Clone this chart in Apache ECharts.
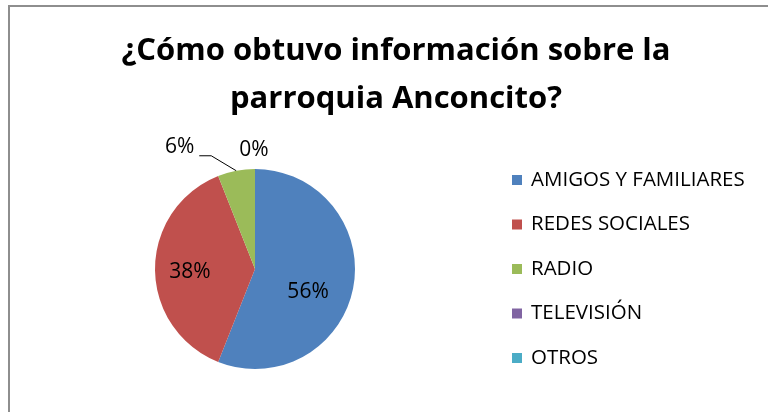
<!DOCTYPE html>
<html>
<head>
<meta charset="utf-8">
<script src="https://cdn.jsdelivr.net/npm/echarts@6/dist/echarts.min.js"></script>
<style>
  html, body { margin: 0; padding: 0; background: #fff; }
  #main { width: 768px; height: 412px; }
</style>
</head>
<body>
<div id="main"></div>
<script>
// respuestas de la encuesta (porcentajes)
const categories = ['AMIGOS Y FAMILIARES', 'REDES SOCIALES', 'RADIO', 'TELEVISIÓN', 'OTROS'];
const values = [56, 38, 6, 0, 0];
const colors = ['#4F81BD', '#C0504D', '#9BBB59', '#8064A2', '#4BACC6'];

const font = '"Open Sans", "Noto Sans", sans-serif';

let data = categories.map(function (name, i) {
    let item = { name: name, value: values[i], itemStyle: { color: colors[i] } };
    if (i < 2) {
        item.label = { position: 'inside' };
    } else if (i === 3) {
        item.labelLine = { show: false };
    } else if (i === 4) {
        item.label = { show: false };
        item.labelLine = { show: false };
    }
    return item;
});

let option = {
    backgroundColor: '#fff',
    animation: false,
    title: {
        text: '¿Cómo obtuvo información sobre la\nparroquia Anconcito?',
        left: 391,
        top: 22,
        textAlign: 'center',
        textStyle: {
            fontFamily: font,
            fontWeight: 'bold',
            fontSize: 31,
            lineHeight: 48,
            color: '#000'
        }
    },
    legend: {
        orient: 'vertical',
        left: 507,
        top: 163,
        itemWidth: 10,
        itemHeight: 10,
        itemGap: 20.5,
        icon: 'rect',
        textStyle: {
            fontFamily: font,
            fontSize: 20.5,
            lineHeight: 24,
            color: '#000',
            padding: [0, 0, 0, 4]
        }
    },
    graphic: [{
        type: 'rect',
        silent: true,
        shape: { x: 9, y: 6, width: 800, height: 500 },
        style: { fill: 'none', stroke: '#8e8e8e', lineWidth: 2 }
    }],
    series: [{
        type: 'pie',
        center: [255, 269],
        radius: 100,
        startAngle: 90,
        clockwise: true,
        avoidLabelOverlap: false,
        data: data,
        label: {
            show: true,
            formatter: '{c}%',
            fontFamily: font,
            fontSize: 21,
            color: '#000'
        },
        labelLine: {
            show: true,
            length: 15,
            length2: 22,
            lineStyle: { color: '#000', width: 1 }
        },
        labelLayout: function (params) {
            let i = params.dataIndex;
            // Excel puts the inside labels a bit off the mid radius
            if (i === 0) return { dx: 1, dy: 13 };
            if (i === 1) return { dx: -12, dy: 3 };
            if (i === 2 && params.labelLinePoints) {
                // bend the leader like Excel does: short diagonal then a flat tail
                let p = params.labelLinePoints;
                let p1 = [p[0][0] - 25, p[0][1] - 15];
                let p2 = [p1[0] - 12, p1[1]];
                return {
                    labelLinePoints: [p[0], p1, p2],
                    x: p2[0] - 5,
                    y: p2[1] - 9,
                    align: 'right',
                    verticalAlign: 'middle'
                };
            }
            if (i === 3) {
                let r = params.labelRect;
                return {
                    x: r.x + r.width + 26,
                    y: r.y + r.height / 2 - 4,
                    align: 'center',
                    verticalAlign: 'middle'
                };
            }
            return {};
        }
    }]
};

let myChart = echarts.init(document.getElementById('main'));
myChart.setOption(option);
</script>
</body>
</html>
